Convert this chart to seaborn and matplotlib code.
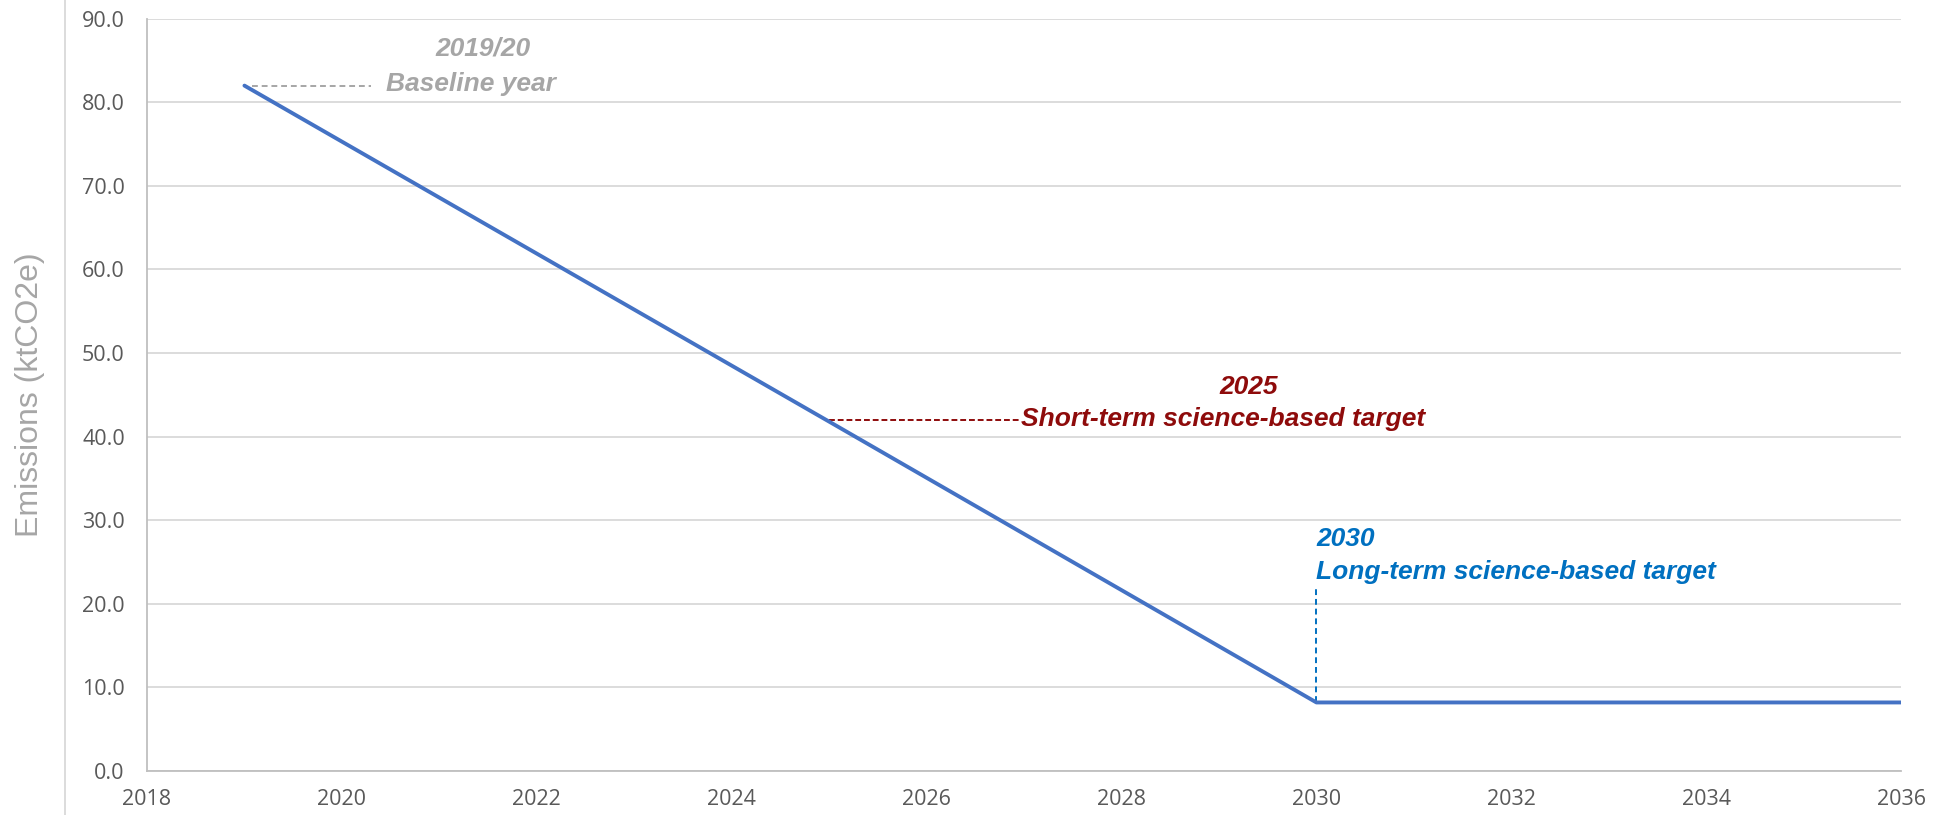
import matplotlib
matplotlib.use("Agg")
import matplotlib.pyplot as plt
from matplotlib.lines import Line2D
import pandas as pd
import seaborn as sns

# emissions pathway (vertices)
years = [2019, 2025, 2030, 2036]
emissions = [82.0, 41.8, 8.2, 8.2]

x_ticks = list(range(2018, 2037, 2))
y_ticks = [0, 10, 20, 30, 40, 50, 60, 70, 80, 90]

baseline_year = "2019/20"
baseline_label = "Baseline year"
short_year = "2025"
short_label = "Short-term science-based target"
long_year = "2030"
long_label = "Long-term science-based target"

LINE_BLUE = "#4472C4"
GREY = "#A6A6A6"
DARK_RED = "#8E0B0B"
TARGET_BLUE = "#0070C0"

sns.set_theme(style="white")
plt.rcParams["font.family"] = ["Liberation Sans", "DejaVu Sans"]

df = pd.DataFrame({"year": years, "emissions": emissions})

fig = plt.figure(figsize=(19.34, 8.15), dpi=100)
ax = fig.add_axes([0.076, 0.054, 0.907, 0.923])

sns.lineplot(data=df, x="year", y="emissions", ax=ax, color=LINE_BLUE,
             linewidth=2.8, zorder=3)

ax.set_xlim(2018, 2036)
ax.set_ylim(0, 90)
ax.set_xticks(x_ticks)
ax.set_yticks(y_ticks)
ax.set_yticklabels([f"{v:.1f}" for v in y_ticks])
ax.yaxis.grid(True, color="#D9D9D9", linewidth=1.3)
ax.xaxis.grid(False)
for side in ["top", "right"]:
    ax.spines[side].set_visible(False)
for side in ["left", "bottom"]:
    ax.spines[side].set_color("#BFBFBF")
    ax.spines[side].set_linewidth(1.3)

ax.tick_params(axis="both", length=0, labelsize=15.5, labelcolor="#595959")
ax.tick_params(axis="y", pad=16)
ax.tick_params(axis="x", pad=13)
for lab in ax.get_xticklabels() + ax.get_yticklabels():
    lab.set_fontfamily(["Open Sans", "DejaVu Sans"])

ax.set_xlabel("")
ax.set_ylabel("Emissions (ktCO2e)", fontsize=23, color=GREY)
ax.yaxis.set_label_coords(-0.058, 0.5)

ann = dict(fontsize=19, fontweight="bold", fontstyle="italic", va="center")

# baseline annotation
ax.plot([2019.08, 2020.3], [82.0, 82.0], color=GREY, linewidth=1.4,
        linestyle=(0, (3, 2)), zorder=2)
ax.text(2021.45, 86.4, baseline_year, color=GREY, ha="center", **ann)
ax.text(2020.45, 82.2, baseline_label, color=GREY, ha="left", **ann)

# short-term target annotation
ax.plot([2025.0, 2026.97], [42.0, 42.0], color=DARK_RED, linewidth=1.4,
        linestyle=(0, (3, 1.5)), zorder=2)
ax.text(2029.3, 46.0, short_year, color=DARK_RED, ha="center", **ann)
ax.text(2026.97, 42.1, short_label, color=DARK_RED, ha="left", **ann)

# long-term target annotation
ax.plot([2030.0, 2030.0], [8.2, 21.9], color=TARGET_BLUE, linewidth=1.4,
        linestyle=(0, (3, 2)), zorder=2)
ax.text(2030.0, 27.8, long_year, color=TARGET_BLUE, ha="left", **ann)
ax.text(2030.0, 23.8, long_label, color=TARGET_BLUE, ha="left", **ann)

# separator line at the left of the chart area
fig.add_artist(Line2D([0.0336, 0.0336], [0, 1], transform=fig.transFigure,
                      color="#D9D9D9", linewidth=1.3))

fig.savefig("out.png", dpi=100)
